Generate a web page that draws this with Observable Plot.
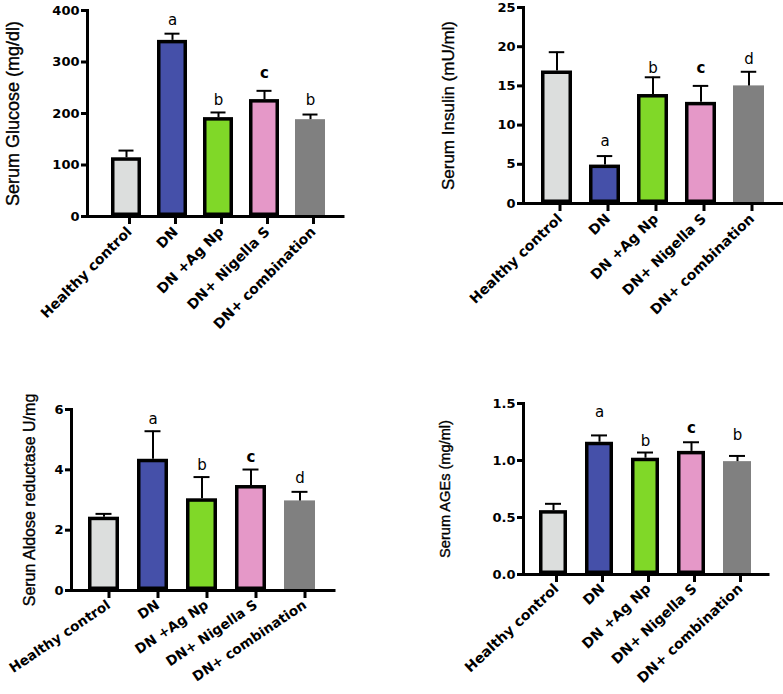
<!DOCTYPE html>
<html><head><meta charset="utf-8">
<script src="https://cdn.jsdelivr.net/npm/d3@7"></script>
<script src="https://cdn.jsdelivr.net/npm/@observablehq/plot@0.6"></script>
<style>
body{margin:0;background:#fff;}
#wrap{position:relative;width:783px;height:694px;overflow:hidden;background:#fff}
.panel{position:absolute}
</style></head><body><div id="wrap"></div>
<script>
// ---- data ----
const categories = ["Healthy control", "DN", "DN +Ag Np", "DN+ Nigella S", "DN+ combination"];
const barColors = ["#dcdedd", "#4550a9", "#80d828", "#e598c8", "#808080"];

const glucoseMean = [114, 342, 192, 227, 188];
const glucoseErr = [14, 13, 10, 17, 10];
const glucoseLetters = ["", "a", "b", "c", "b"];
const glucoseLetterY = [null, 371, 217, 268, 217];
const glucoseTicks = [0, 100, 200, 300, 400];

const insulinMean = [16.9, 4.9, 13.9, 12.9, 15.0];
const insulinErr = [2.4, 1.15, 2.2, 2.1, 1.8];
const insulinLetters = ["", "a", "b", "c", "d"];
const insulinLetterY = [null, 7.3, 16.6, 16.6, 17.75];
const insulinTicks = [0, 5, 10, 15, 20, 25];

const aldoseMean = [2.43, 4.35, 3.04, 3.48, 2.97];
const aldoseErr = [0.11, 0.93, 0.72, 0.53, 0.30];
const aldoseLetters = ["", "a", "b", "c", "d"];
const aldoseLetterY = [null, 5.52, 3.98, 4.25, 3.57];
const aldoseTicks = [0, 2, 4, 6];

const agesMean = [0.56, 1.16, 1.02, 1.08, 0.99];
const agesErr = [0.06, 0.06, 0.05, 0.08, 0.05];
const agesLetters = ["", "a", "b", "c", "b"];
const agesLetterY = [null, 1.38, 1.13, 1.24, 1.18];
const agesTicks = [0, 0.5, 1.0, 1.5];

// ---- drawing ----
const wrap = document.getElementById("wrap");
const TICK_FONT = "DejaVu Sans";
const TITLE_FONT = "Liberation Sans";

function panel(cfg) {
  const rows = categories.map((c, i) => ({
    cat: c, mean: cfg.mean[i], err: cfg.err[i], top: cfg.mean[i] + cfg.err[i],
    letter: cfg.letters[i], ly: cfg.letterY[i], outlined: i < 4
  }));
  const step = (cfg.xRange[1] - cfg.xRange[0]) / categories.length;
  const bw = step * (1 - cfg.padInner);
  const capInset = (bw - 16) / 2;
  const letterRows = rows.filter(d => d.letter);
  const chart = Plot.plot({
    width: cfg.width, height: cfg.height,
    marginLeft: cfg.mL, marginRight: cfg.mR, marginTop: cfg.mT, marginBottom: cfg.mB,
    style: {background: "transparent", color: "black", overflow: "visible"},
    x: {domain: categories, range: cfg.xRange, paddingInner: cfg.padInner, paddingOuter: cfg.padInner / 2, align: 0.5},
    y: {domain: [0, cfg.ticks[cfg.ticks.length - 1]]},
    color: {domain: categories, range: barColors},
    marks: [
      Plot.barY(rows.filter(d => d.outlined), {x: "cat", y: "mean", fill: "cat", stroke: "black", strokeWidth: 3.5, inset: 1.75}),
      Plot.barY(rows.filter(d => !d.outlined), {x: "cat", y: "mean", fill: "cat"}),
      Plot.ruleX(rows, {x: "cat", y1: "mean", y2: "top", stroke: "black", strokeWidth: 2}),
      Plot.tickY(rows, {x: "cat", y: "top", stroke: "black", strokeWidth: 2, insetLeft: capInset, insetRight: capInset}),
      Plot.ruleY([0], {stroke: "black", strokeWidth: 3, strokeLinecap: "square"}),
      Plot.frame({anchor: "left", stroke: "black", strokeWidth: 3, strokeLinecap: "square"}),
      Plot.axisY({ticks: cfg.ticks, tickFormat: cfg.tickFormat, tickSize: 6, tickPadding: 2, strokeWidth: 3,
        label: null, fontSize: 13, fontWeight: "bold", fontFamily: TICK_FONT}),
      Plot.axisX({tickSize: 8, tickPadding: cfg.labPad, strokeWidth: 3, tickRotate: cfg.rot, label: null, dx: cfg.labDx,
        fontSize: cfg.labSize, fontWeight: "bold", fontFamily: TICK_FONT}),
      Plot.text(letterRows.filter(d => d.letter !== "c"), {x: "cat", y: "ly", text: "letter", lineAnchor: "bottom",
        fontSize: 15, fontFamily: TICK_FONT, fill: "black"}),
      Plot.text(letterRows.filter(d => d.letter === "c"), {x: "cat", y: "ly", text: "letter", lineAnchor: "bottom",
        fontSize: 15, fontWeight: "bold", fontFamily: TICK_FONT, fill: "black"}),
      Plot.text([cfg.title], {frameAnchor: "left", rotate: -90, dx: cfg.titleDx, textAnchor: "middle",
        lineAnchor: "middle", fontSize: cfg.titleSize, fontFamily: TITLE_FONT, fill: "black",
        stroke: "black", strokeWidth: 0.35})
    ]
  });
  const div = document.createElement("div");
  div.className = "panel";
  div.style.left = cfg.left + "px";
  div.style.top = cfg.top + "px";
  div.appendChild(chart);
  wrap.appendChild(div);
}

panel({mean: glucoseMean, err: glucoseErr, letters: glucoseLetters, letterY: glucoseLetterY, ticks: glucoseTicks,
  tickFormat: d => String(d), title: "Serum Glucose (mg/dl)", titleSize: 18, titleDx: -74,
  rot: -45, labPad: 5, labDx: 3, labSize: 14,
  left: 0, top: 0, width: 390, height: 330, mL: 87, mR: 47, mT: 10, mB: 114, xRange: [101.6, 335.4], padInner: 0.337});

panel({mean: insulinMean, err: insulinErr, letters: insulinLetters, letterY: insulinLetterY, ticks: insulinTicks,
  tickFormat: d => String(d), title: "Serum Insulin (mU/ml)", titleSize: 17, titleDx: -75,
  rot: -44, labPad: 5, labDx: 3, labSize: 14,
  left: 390, top: 0, width: 393, height: 330, mL: 133, mR: 0, mT: 7, mB: 127, xRange: [141.9, 383.1], padInner: 0.347});

panel({mean: aldoseMean, err: aldoseErr, letters: aldoseLetters, letterY: aldoseLetterY, ticks: aldoseTicks,
  tickFormat: d => String(d), title: "Serun Aldose reductase U/mg", titleSize: 16, titleDx: -42,
  rot: -34, labPad: 5, labDx: 5, labSize: 13.6,
  left: 0, top: 360, width: 390, height: 334, mL: 71, mR: 56, mT: 49, mB: 104, xRange: [79.5, 324.5], padInner: 0.367});

panel({mean: agesMean, err: agesErr, letters: agesLetters, letterY: agesLetterY, ticks: agesTicks,
  tickFormat: d3.format(".1f"), title: "Serum AGEs (mg/ml)", titleSize: 14.6, titleDx: -78,
  rot: -43, labPad: 4, labDx: 3, labSize: 14,
  left: 390, top: 360, width: 393, height: 334, mL: 133, mR: 15, mT: 43, mB: 120, xRange: [138.9, 370.1], padInner: 0.395});
</script>
</body></html>
